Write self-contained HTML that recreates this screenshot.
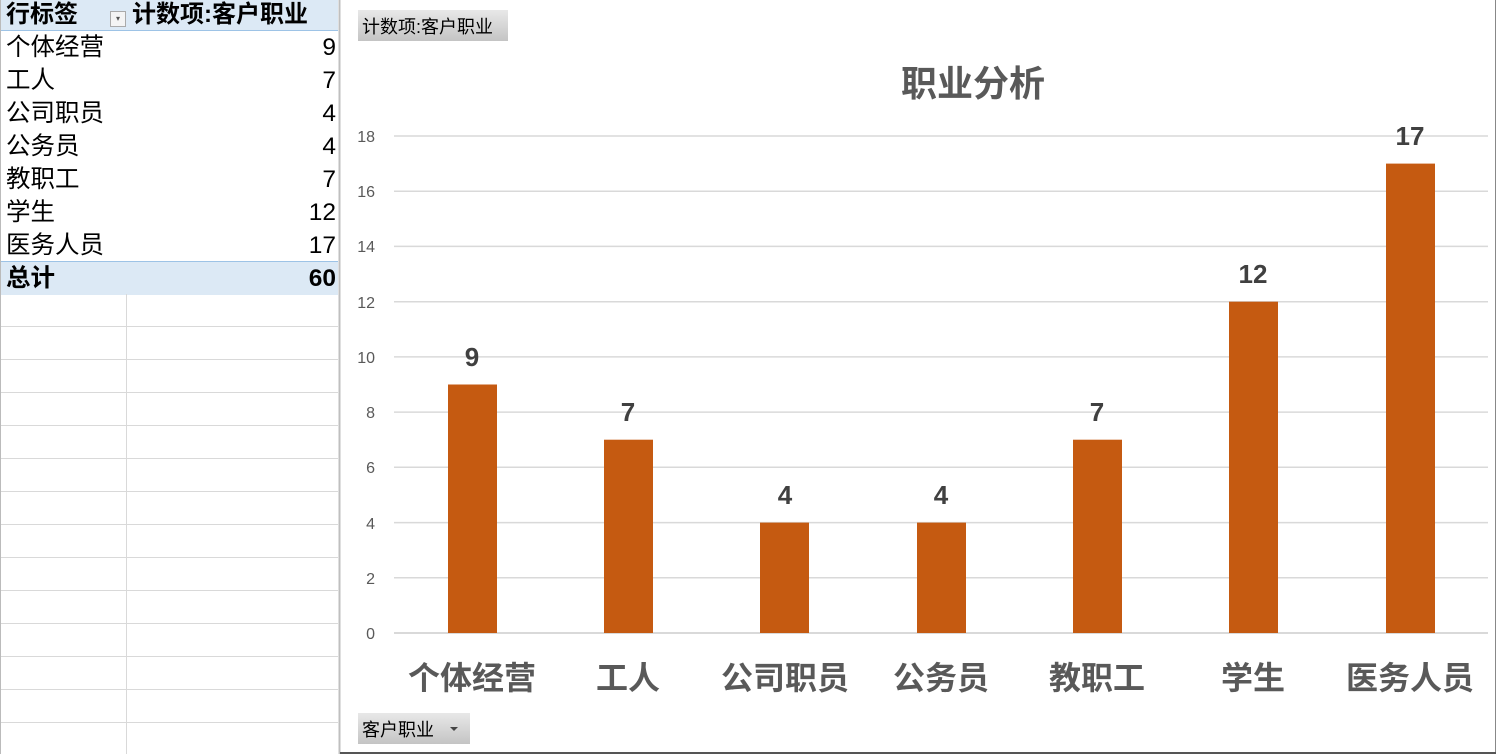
<!DOCTYPE html>
<html><head><meta charset="utf-8"><style>
body{margin:0;width:1496px;height:754px;overflow:hidden;background:#fff;font-family:"Liberation Sans","Noto Sans CJK SC",sans-serif;position:relative}
.a{position:absolute}
.row{position:absolute;left:0;width:338px;height:33px;font-size:24.5px;line-height:33px;color:#000}
.row .l{position:absolute;left:6px}
.row .r{position:absolute;right:2px}
</style></head><body>
<div class="a" style="left:0;top:0;width:338px;height:30px;background:#dce9f5;border-bottom:1px solid #9dc3e6"></div>
<div class="a" style="left:6px;top:0;font-size:24px;line-height:30px;font-weight:bold">行标签</div>
<div class="a" style="left:110px;top:11px;width:14px;height:14px;border:1px solid #aaa;background:#f4f4f4;font-size:8px;line-height:14px;text-align:center;color:#555">▾</div>
<div class="a" style="left:132px;top:0;font-size:24px;line-height:30px;font-weight:bold">计数项:客户职业</div>
<div class="row" style="top:31px"><span class="l">个体经营</span><span class="r">9</span></div>
<div class="row" style="top:64px"><span class="l">工人</span><span class="r">7</span></div>
<div class="row" style="top:97px"><span class="l">公司职员</span><span class="r">4</span></div>
<div class="row" style="top:130px"><span class="l">公务员</span><span class="r">4</span></div>
<div class="row" style="top:163px"><span class="l">教职工</span><span class="r">7</span></div>
<div class="row" style="top:196px"><span class="l">学生</span><span class="r">12</span></div>
<div class="row" style="top:229px"><span class="l">医务人员</span><span class="r">17</span></div>
<div class="row" style="top:261px;background:#dce9f5;border-top:1px solid #9dc3e6;font-weight:bold"><span class="l">总计</span><span class="r">60</span></div>
<svg class="a" style="left:0;top:0" width="1496" height="754">
<g stroke="#d9d9d9" stroke-width="1">
<line x1="126.5" y1="294" x2="126.5" y2="754"/>
<line x1="0" y1="326.5" x2="338" y2="326.5"/><line x1="0" y1="359.5" x2="338" y2="359.5"/><line x1="0" y1="392.5" x2="338" y2="392.5"/><line x1="0" y1="425.5" x2="338" y2="425.5"/><line x1="0" y1="458.5" x2="338" y2="458.5"/><line x1="0" y1="491.5" x2="338" y2="491.5"/><line x1="0" y1="524.5" x2="338" y2="524.5"/><line x1="0" y1="557.5" x2="338" y2="557.5"/><line x1="0" y1="590.5" x2="338" y2="590.5"/><line x1="0" y1="623.5" x2="338" y2="623.5"/><line x1="0" y1="656.5" x2="338" y2="656.5"/><line x1="0" y1="689.5" x2="338" y2="689.5"/><line x1="0" y1="722.5" x2="338" y2="722.5"/>
</g>
<line x1="0.5" y1="0" x2="0.5" y2="754" stroke="#bbb"/>
<line x1="339.5" y1="0" x2="339.5" y2="754" stroke="#bfbfbf" stroke-width="2"/>
<line x1="1495.5" y1="0" x2="1495.5" y2="754" stroke="#888"/>
<line x1="340" y1="753" x2="1496" y2="753" stroke="#555" stroke-width="2"/>
<defs><linearGradient id="g" x1="0" y1="0" x2="0" y2="1"><stop offset="0" stop-color="#e8e8e8"/><stop offset="1" stop-color="#c4c4c4"/></linearGradient></defs>
<rect x="358" y="10" width="150" height="31" fill="url(#g)"/>
<text x="362" y="33" font-size="18" fill="#000" font-family="Liberation Sans,Noto Sans CJK SC,sans-serif">计数项:客户职业</text>
<rect x="358" y="713" width="112" height="31" fill="url(#g)"/>
<text x="362" y="736" font-size="18" fill="#000" font-family="Liberation Sans,Noto Sans CJK SC,sans-serif">客户职业</text>
<path d="M450 727 l8 0 l-4 4z" fill="#444"/>
<text x="973" y="96" font-size="36" font-weight="bold" fill="#595959" text-anchor="middle" font-family="Liberation Sans,Noto Sans CJK SC,sans-serif">职业分析</text>
<g stroke="#d9d9d9" stroke-width="1.5">
<line x1="394" y1="136" x2="1488" y2="136"/><line x1="394" y1="191.2" x2="1488" y2="191.2"/><line x1="394" y1="246.4" x2="1488" y2="246.4"/><line x1="394" y1="301.7" x2="1488" y2="301.7"/><line x1="394" y1="356.9" x2="1488" y2="356.9"/><line x1="394" y1="412.1" x2="1488" y2="412.1"/><line x1="394" y1="467.3" x2="1488" y2="467.3"/><line x1="394" y1="522.6" x2="1488" y2="522.6"/><line x1="394" y1="577.8" x2="1488" y2="577.8"/><line x1="394" y1="633" x2="1488" y2="633" stroke-width="2"/>
</g>
<g font-size="16" fill="#595959" text-anchor="end" font-family="Liberation Sans,sans-serif">
<text x="375" y="142">18</text><text x="375" y="197">16</text><text x="375" y="252">14</text><text x="375" y="308">12</text><text x="375" y="363">10</text><text x="375" y="418">8</text><text x="375" y="473">6</text><text x="375" y="529">4</text><text x="375" y="584">2</text><text x="375" y="639">0</text>
</g>
<g fill="#c55a11">
<rect x="448" y="384.5" width="49" height="248.5"/>
<rect x="604" y="439.7" width="49" height="193.3"/>
<rect x="760" y="522.6" width="49" height="110.4"/>
<rect x="917" y="522.6" width="49" height="110.4"/>
<rect x="1073" y="439.7" width="49" height="193.3"/>
<rect x="1229" y="301.7" width="49" height="331.3"/>
<rect x="1386" y="163.6" width="49" height="469.4"/>
</g>
<g font-size="26" font-weight="bold" fill="#404040" text-anchor="middle" font-family="Liberation Sans,sans-serif">
<text x="472" y="366">9</text><text x="628" y="421">7</text><text x="785" y="504">4</text><text x="941" y="504">4</text><text x="1097" y="421">7</text><text x="1253" y="283">12</text><text x="1410" y="145">17</text>
</g>
<g font-size="32" font-weight="bold" fill="#595959" text-anchor="middle" font-family="Liberation Sans,Noto Sans CJK SC,sans-serif">
<text x="472" y="689">个体经营</text><text x="628" y="689">工人</text><text x="785" y="689">公司职员</text><text x="941" y="689">公务员</text><text x="1097" y="689">教职工</text><text x="1253" y="689">学生</text><text x="1410" y="689">医务人员</text>
</g>
</svg>
</body></html>
